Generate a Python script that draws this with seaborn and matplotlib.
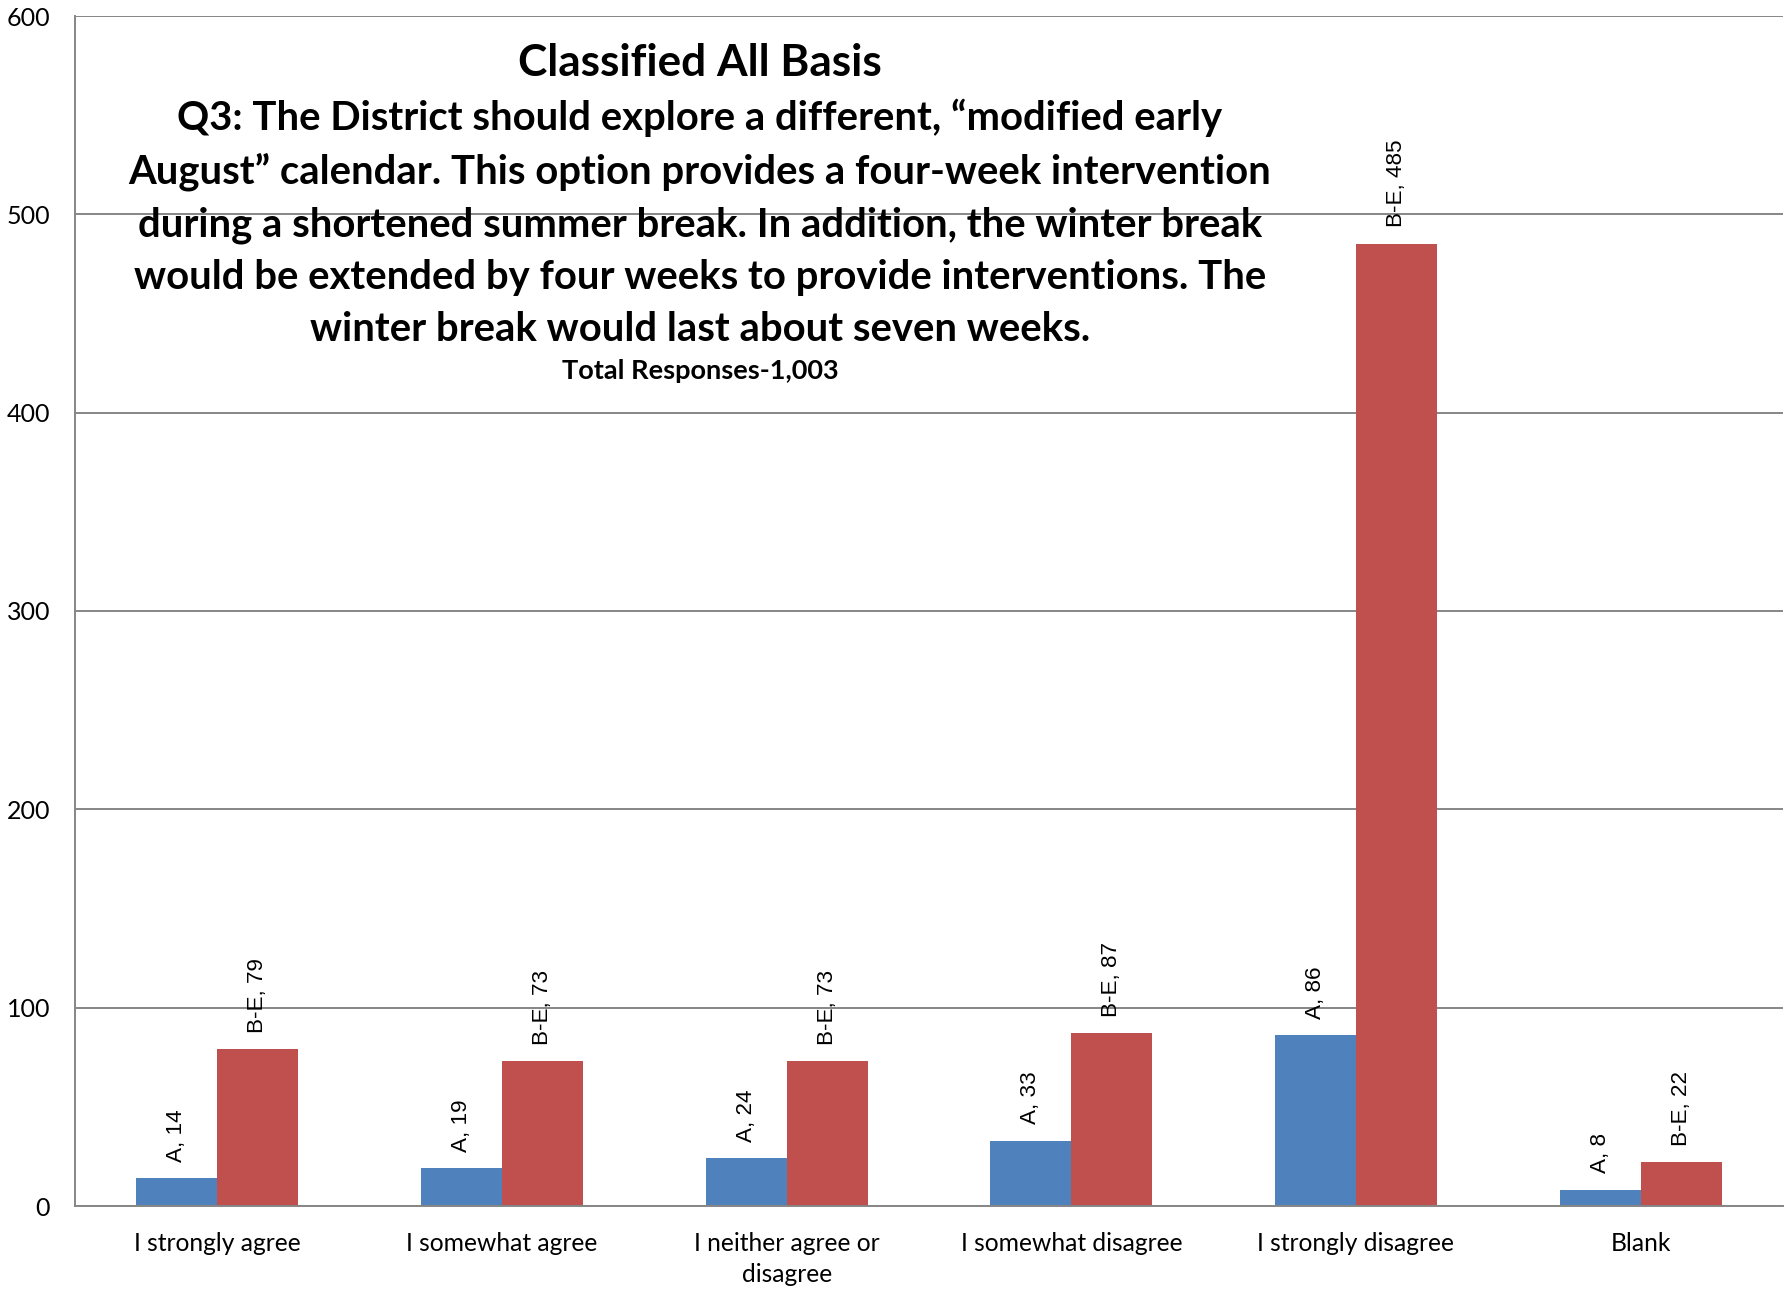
import numpy as np
import pandas as pd
import matplotlib.pyplot as plt
import seaborn as sns
from matplotlib.ticker import MultipleLocator, FixedLocator

# data
categories = ["I strongly agree", "I somewhat agree", "I neither agree or\ndisagree",
              "I somewhat disagree", "I strongly disagree", "Blank"]
groups = ["A", "B-E"]
a_counts = [14, 19, 24, 33, 86, 8]
be_counts = [79, 73, 73, 87, 485, 22]

title_main = "Classified All Basis"
title_q = ("Q3: The District should explore a different, \u201cmodified early\n"
           "August\u201d calendar. This option provides a four-week intervention\n"
           "during a shortened summer break. In addition, the winter break\n"
           "would be extended by four weeks to provide interventions. The\n"
           "winter break would last about seven weeks.")
title_total = "Total Responses-1,003"

df = pd.DataFrame({
    "category": categories * 2,
    "group": [groups[0]] * len(categories) + [groups[1]] * len(categories),
    "count": a_counts + be_counts,
})

sns.set_style("white")
plt.rcParams['font.family'] = ['Lato', 'DejaVu Sans']
plt.rcParams['text.color'] = 'black'
plt.rcParams['xtick.labelcolor'] = 'black'
plt.rcParams['ytick.labelcolor'] = 'black'

W, H = 1790, 1304
fig = plt.figure(figsize=(W / 100, H / 100), dpi=100)
ax = fig.add_axes([75 / W, 1 - 1206 / H, (1783 - 75) / W, (1206 - 16) / H])

grid_c = "#868686"
sns.barplot(data=df, x="category", y="count", hue="group", order=categories,
            hue_order=groups, palette=["#4F81BD", "#C0504D"], width=0.57,
            gap=0, saturation=1, edgecolor="none", ax=ax, legend=False)

ax.set_ylim(0, 600)
ax.set_xlim(-0.5, len(categories) - 0.5)
ax.yaxis.set_major_locator(MultipleLocator(100))
ax.set_axisbelow(True)
ax.grid(axis="y", color=grid_c, lw=1.4)
ax.grid(axis="x", visible=False)

for s in ["top", "right"]:
    ax.spines[s].set_visible(False)
for s in ["left", "bottom"]:
    ax.spines[s].set_color(grid_c)
    ax.spines[s].set_linewidth(1.4)

ax.set_xlabel("")
ax.set_ylabel("")
ax.xaxis.set_minor_locator(FixedLocator(np.arange(-0.5, len(categories), 1.0)))
ax.tick_params(axis="x", which="major", length=0, pad=19, labelsize=17.7, labelcolor="black")
ax.tick_params(axis="x", which="minor", length=12, width=1.4, color=grid_c, direction="out")
ax.tick_params(axis="y", length=7, width=1.4, color=grid_c, pad=11, labelsize=18, labelcolor="black")
for t in ax.get_xticklabels():
    t.set_linespacing(1.4)

for cont, g in zip(ax.containers, groups):
    vals = a_counts if g == "A" else be_counts
    ax.bar_label(cont, labels=[f"{g}, {v}" for v in vals], rotation=90,
                 padding=12, fontsize=16.2, family="Liberation Sans", color="black")

fig.text(700 / W, 1 - 63 / H, title_main, ha="center", va="center",
         fontsize=31.8, fontweight="bold", color="black")
fig.text(700 / W, 1 - 223 / H, title_q, ha="center", va="center",
         fontsize=28.8, fontweight="bold", linespacing=1.5, color="black")
fig.text(700 / W, 1 - 371 / H, title_total, ha="center", va="center",
         fontsize=19.5, fontweight="bold", color="black")

fig.savefig("out.png", dpi=100, facecolor="white")
